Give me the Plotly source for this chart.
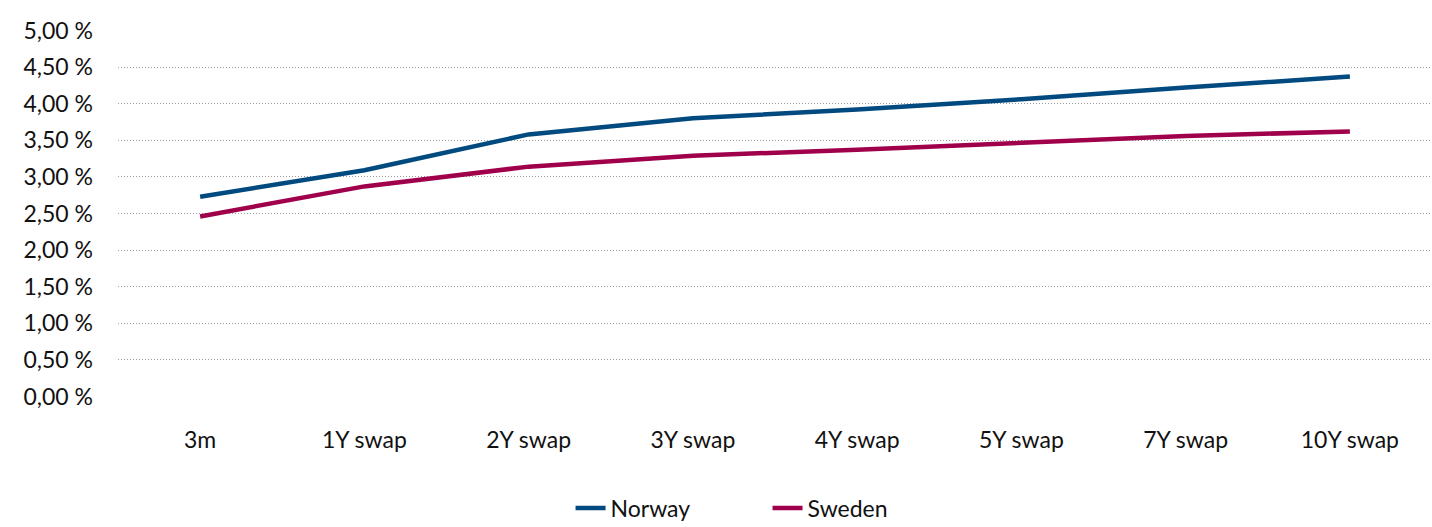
import plotly.graph_objects as go

# Swap curve: tenors and rates (%)
tenors = ["3m", "1Y swap", "2Y swap", "3Y swap", "4Y swap", "5Y swap", "7Y swap", "10Y swap"]
norway = [2.73, 3.09, 3.58, 3.80, 3.92, 4.06, 4.22, 4.37]
sweden = [2.46, 2.87, 3.14, 3.29, 3.37, 3.46, 3.56, 3.62]

y_ticks = [0, 0.5, 1, 1.5, 2, 2.5, 3, 3.5, 4, 4.5, 5]
y_labels = [f"{v:.2f}".replace(".", ",") + " %" for v in y_ticks]

FONT = "Lato, Carlito, Calibri, sans-serif"

fig = go.Figure()
fig.add_trace(go.Scatter(x=tenors, y=norway, mode="lines", name="Norway",
                         line=dict(color="#004A80", width=4.5)))
fig.add_trace(go.Scatter(x=tenors, y=sweden, mode="lines", name="Sweden",
                         line=dict(color="#A0004B", width=4.5)))

fig.update_layout(
    width=1432, height=527,
    margin=dict(l=118, r=0, t=30, b=130, autoexpand=False),
    paper_bgcolor="white", plot_bgcolor="white",
    font=dict(family=FONT, size=23, color="#111111"),
    showlegend=True,
    legend=dict(orientation="h", xref="container", x=0.536, xanchor="center",
                yref="container", y=0.036, yanchor="middle",
                font=dict(size=23), entrywidth=152, entrywidthmode="pixels",
                traceorder="normal"),
)
fig.update_xaxes(type="category", range=[-0.5, 7.5], showgrid=False, zeroline=False,
                 showline=False, ticks="", ticklabelstandoff=27)
fig.update_yaxes(range=[-0.006, 5.006], tickvals=y_ticks, ticktext=y_labels,
                 showgrid=True, gridcolor="#9a9a9a", griddash="1px,2px", gridwidth=1,
                 zeroline=False, showline=False, ticks="", ticklabelstandoff=24)

fig.write_html("out.html")
